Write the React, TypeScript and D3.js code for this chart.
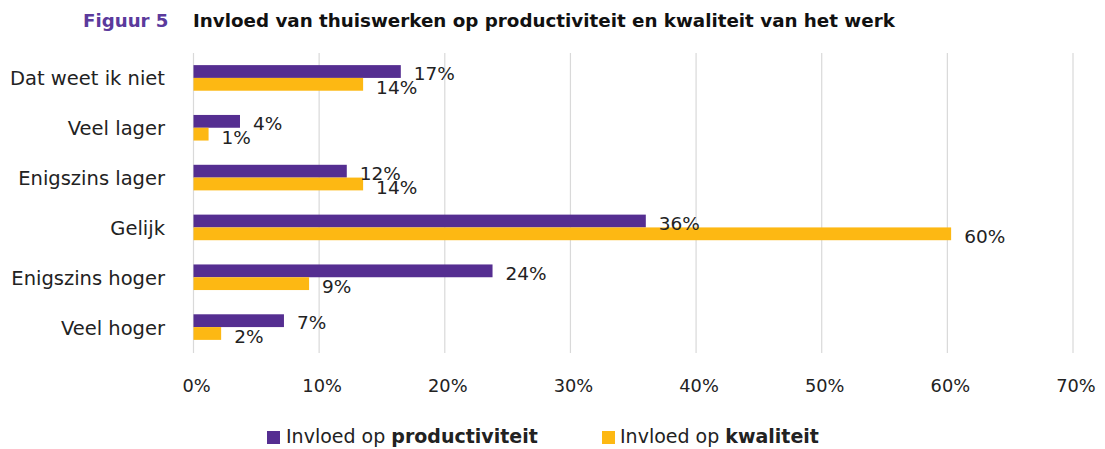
import React from "react";
import * as d3 from "d3";

const categories = ["Dat weet ik niet", "Veel lager", "Enigszins lager", "Gelijk", "Enigszins hoger", "Veel hoger"];
const productiviteit = [16.5, 3.7, 12.2, 36.0, 23.8, 7.2];
const kwaliteit = [13.5, 1.2, 13.5, 60.3, 9.2, 2.2];
const productiviteitLabels = ["17%", "4%", "12%", "36%", "24%", "7%"];
const kwaliteitLabels = ["14%", "1%", "14%", "60%", "9%", "2%"];
const xTicks = [0, 10, 20, 30, 40, 50, 60, 70];

const PURPLE = "#552E91";
const ORANGE = "#FDB813";
const FONT = "'DejaVu Sans', sans-serif";

export default function App() {
  const W = 1105, H = 449;
  const x = d3.scaleLinear().domain([0, 70]).range([193.5, 1073]);
  const y = d3.scaleBand<string>().domain(categories).range([53, 352]).padding(0);
  const barH = 12.8;
  const bw = y.bandwidth();

  return (
    <svg width={W} height={H} style={{ position: "absolute", left: 0, top: 0, background: "#fff" }} fontFamily={FONT}>
      <text x={83} y={27} fontSize={18.2} fontWeight={700} fill="#5B3A9C">Figuur 5</text>
      <text x={193} y={27} fontSize={18.3} fontWeight={700} fill="#111">Invloed van thuiswerken op productiviteit en kwaliteit van het werk</text>

      {xTicks.map((t) => (
        <g key={t}>
          <line x1={x(t)} x2={x(t)} y1={53} y2={353} stroke="#d9d9d9" strokeWidth={1.2} />
          <text x={x(t) + 3} y={392} fontSize={17.8} textAnchor="middle" fill="#222">{t}%</text>
        </g>
      ))}

      {categories.map((c, i) => {
        const cy = (y(c) as number) + bw / 2;
        return (
          <g key={c}>
            <text x={165} y={cy + 7.5} fontSize={19.5} textAnchor="end" fill="#222">{c}</text>
            <rect x={x(0)} y={cy - barH} width={x(productiviteit[i]) - x(0)} height={barH} fill={PURPLE} />
            <rect x={x(0)} y={cy} width={x(kwaliteit[i]) - x(0)} height={barH} fill={ORANGE} />
            <text x={x(productiviteit[i]) + 13} y={cy + 2.3} fontSize={18.5} fill="#222">{productiviteitLabels[i]}</text>
            <text x={x(kwaliteit[i]) + 13} y={cy + 16} fontSize={18.5} fill="#222">{kwaliteitLabels[i]}</text>
          </g>
        );
      })}

      <rect x={267} y={431} width={13} height={13} fill={PURPLE} />
      <text x={286} y={443} fontSize={19} fill="#222">Invloed op <tspan fontWeight={700}>productiviteit</tspan></text>
      <rect x={602} y={431} width={13} height={13} fill={ORANGE} />
      <text x={620} y={443} fontSize={19} fill="#222">Invloed op <tspan fontWeight={700}>kwaliteit</tspan></text>
    </svg>
  );
}
